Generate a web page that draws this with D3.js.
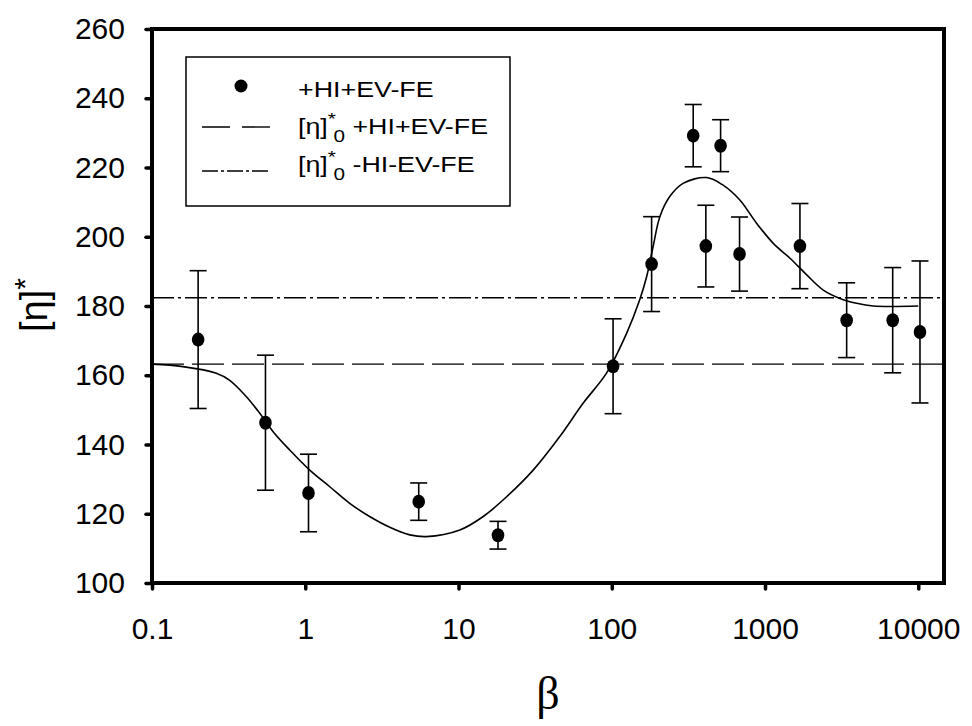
<!DOCTYPE html>
<html>
<head>
<meta charset="utf-8">
<script src="https://cdn.jsdelivr.net/npm/d3@7"></script>
<style>
  html, body { margin: 0; padding: 0; background: #fff; }
  text { font-family: "Liberation Sans", Arial, sans-serif; fill: #000; }
  text.serif { font-family: "Liberation Serif", "Times New Roman", serif; }
</style>
</head>
<body>
<svg id="chart" width="972" height="726"></svg>
<script>
// ---- data ----
const betaPoints = [0.2, 0.55, 1.05, 5.5, 18.1, 102, 182, 340, 411, 513, 682, 1690, 3410, 6810, 10260];
const etaPoints  = [170.3, 146.3, 126.0, 123.5, 113.8, 162.6, 192.1, 229.2, 197.3, 226.3, 195.0, 197.3, 175.9, 175.9, 172.5];
const etaErrors  = [19.9, 19.5, 11.2, 5.4, 4.0, 13.7, 13.7, 9.0, 11.8, 7.5, 10.7, 12.3, 10.8, 15.2, 20.5];

const curveBeta = [0.1, 0.159, 0.263, 0.32, 0.413, 0.505, 0.617, 0.792, 1.07, 1.445, 1.95, 2.63, 3.56, 4.81, 6.18,
                   10.2, 14.5, 20.6, 30.7, 45.8, 65, 92.4, 125, 152, 169, 186, 206, 239, 292, 416, 533, 685, 881,
                   1132, 1455, 1870, 2400, 3080, 3960, 5080, 10000];
const curveEta  = [163.2, 162.5, 160.6, 158.6, 153.8, 149.0, 143.7, 138.4, 132.6, 127.8, 123.0, 119.2, 116.1, 113.9, 113.4,
                   115.3, 119.2, 124.9, 132.6, 142.3, 151.9, 160.6, 172.1, 181.7, 188.5, 197.1, 205.8, 211.6, 215.4, 217.1, 214.9, 210.6, 203.9,
                   198.1, 193.8, 189.0, 184.6, 182.2, 180.8, 180.0, 180.0];

const etaZeroWith = 163.2;   // [η]*0 +HI+EV-FE
const etaZeroWithout = 182.4; // [η]*0 -HI-EV-FE

const xTicks = [0.1, 1, 10, 100, 1000, 10000];
const xTickLabels = ["0.1", "1", "10", "100", "1000", "10000"];
const yTicks = [100, 120, 140, 160, 180, 200, 220, 240, 260];

const legendLabels = ["+HI+EV-FE", "+HI+EV-FE", "-HI-EV-FE"];

// ---- layout ----
const svg = d3.select("#chart");
const L = 152, R = 944, T = 29, B = 583;

const x = d3.scaleLog().domain([0.1, 14720]).range([L, R]);
const y = d3.scaleLinear().domain([100, 260]).range([B, T]);

// reference lines
svg.append("line")
  .attr("x1", x(0.1)).attr("x2", R)
  .attr("y1", y(etaZeroWith)).attr("y2", y(etaZeroWith))
  .attr("stroke", "#000").attr("stroke-width", 1.4)
  .attr("stroke-dasharray", "32,8");

svg.append("line")
  .attr("x1", x(0.1)).attr("x2", R)
  .attr("y1", y(etaZeroWithout)).attr("y2", y(etaZeroWithout))
  .attr("stroke", "#000").attr("stroke-width", 1.4)
  .attr("stroke-dasharray", "22,4,3,4");

// fitted curve
const line = d3.line()
  .x((d, i) => x(curveBeta[i]))
  .y((d, i) => y(curveEta[i]))
  .curve(d3.curveCatmullRom.alpha(0.5));
svg.append("path")
  .datum(curveEta)
  .attr("d", line)
  .attr("fill", "none")
  .attr("stroke", "#000")
  .attr("stroke-width", 1.6);

// error bars
const eb = svg.append("g").attr("stroke", "#000").attr("stroke-width", 1.6);
betaPoints.forEach((b, i) => {
  const cx = x(b);
  const y1 = y(etaPoints[i] + etaErrors[i]);
  const y2 = y(etaPoints[i] - etaErrors[i]);
  eb.append("line").attr("x1", cx).attr("x2", cx).attr("y1", y1).attr("y2", y2);
  eb.append("line").attr("x1", cx - 8.5).attr("x2", cx + 8.5).attr("y1", y1).attr("y2", y1);
  eb.append("line").attr("x1", cx - 8.5).attr("x2", cx + 8.5).attr("y1", y2).attr("y2", y2);
});

// points
svg.append("g").selectAll("ellipse")
  .data(betaPoints)
  .join("ellipse")
  .attr("cx", d => x(d))
  .attr("cy", (d, i) => y(etaPoints[i]))
  .attr("rx", 6.3)
  .attr("ry", 7)
  .attr("fill", "#000");

// frame
svg.append("rect")
  .attr("x", L).attr("y", T)
  .attr("width", R - L).attr("height", B - T)
  .attr("fill", "none").attr("stroke", "#000").attr("stroke-width", 4);

// axes
const xAxis = d3.axisBottom(x)
  .tickValues(xTicks)
  .tickFormat((d, i) => xTickLabels[i])
  .tickSize(6).tickPadding(29);
const gx = svg.append("g").attr("transform", `translate(0,${B})`).call(xAxis);
gx.select(".domain").remove();
gx.selectAll("line").attr("stroke-width", 3.5).attr("stroke-linecap", "round");
gx.selectAll("text").attr("font-size", 30);

const yAxis = d3.axisLeft(y)
  .tickValues(yTicks)
  .tickFormat(d3.format("d"))
  .tickSize(6).tickPadding(21);
const gy = svg.append("g").attr("transform", `translate(${L},0)`).call(yAxis);
gy.select(".domain").remove();
gy.selectAll("line").attr("stroke-width", 3.5).attr("stroke-linecap", "round");
gy.selectAll("text").attr("font-size", 30);

// axis titles
svg.append("text")
  .attr("class", "serif")
  .attr("x", (L + R) / 2).attr("y", 709)
  .attr("text-anchor", "middle")
  .attr("font-size", 46)
  .text("β");

const yt = svg.append("text")
  .attr("transform", "translate(47,305) rotate(-90)")
  .attr("text-anchor", "middle")
  .attr("font-size", 38);
yt.append("tspan").text("[η]");
yt.append("tspan").attr("dy", -12).attr("font-size", 30).text("*");

// legend
const lg = svg.append("g");
lg.append("rect")
  .attr("x", 186).attr("y", 57).attr("width", 324).attr("height", 149)
  .attr("fill", "#fff").attr("stroke", "#000").attr("stroke-width", 1.5);

lg.append("circle").attr("cx", 241).attr("cy", 86).attr("r", 6.5).attr("fill", "#000");
lg.append("line").attr("x1", 202).attr("x2", 270).attr("y1", 127).attr("y2", 127)
  .attr("stroke", "#000").attr("stroke-width", 1.4).attr("stroke-dasharray", "28,12");
lg.append("line").attr("x1", 202).attr("x2", 270).attr("y1", 171).attr("y2", 171)
  .attr("stroke", "#000").attr("stroke-width", 1.4).attr("stroke-dasharray", "16,3,3,3");

const rows = [97, 134, 172];
const lt1 = lg.append("g").attr("transform", `translate(298,${rows[0]}) scale(1.22,1)`);
lt1.append("text").attr("font-size", 22).text(legendLabels[0]);

[1, 2].forEach(k => {
  const g = lg.append("g").attr("transform", `translate(298,${rows[k]}) scale(1.22,1)`);
  const t = g.append("text").attr("font-size", 22);
  t.append("tspan").text("[η]");
  t.append("tspan").attr("dy", -9).attr("font-size", 17).text("*");
  t.append("tspan").attr("dy", 17).attr("dx", -2).attr("font-size", 17).text("0");
  t.append("tspan").attr("dy", -8).attr("font-size", 22).text(" " + legendLabels[k]);
});
</script>
</body>
</html>
